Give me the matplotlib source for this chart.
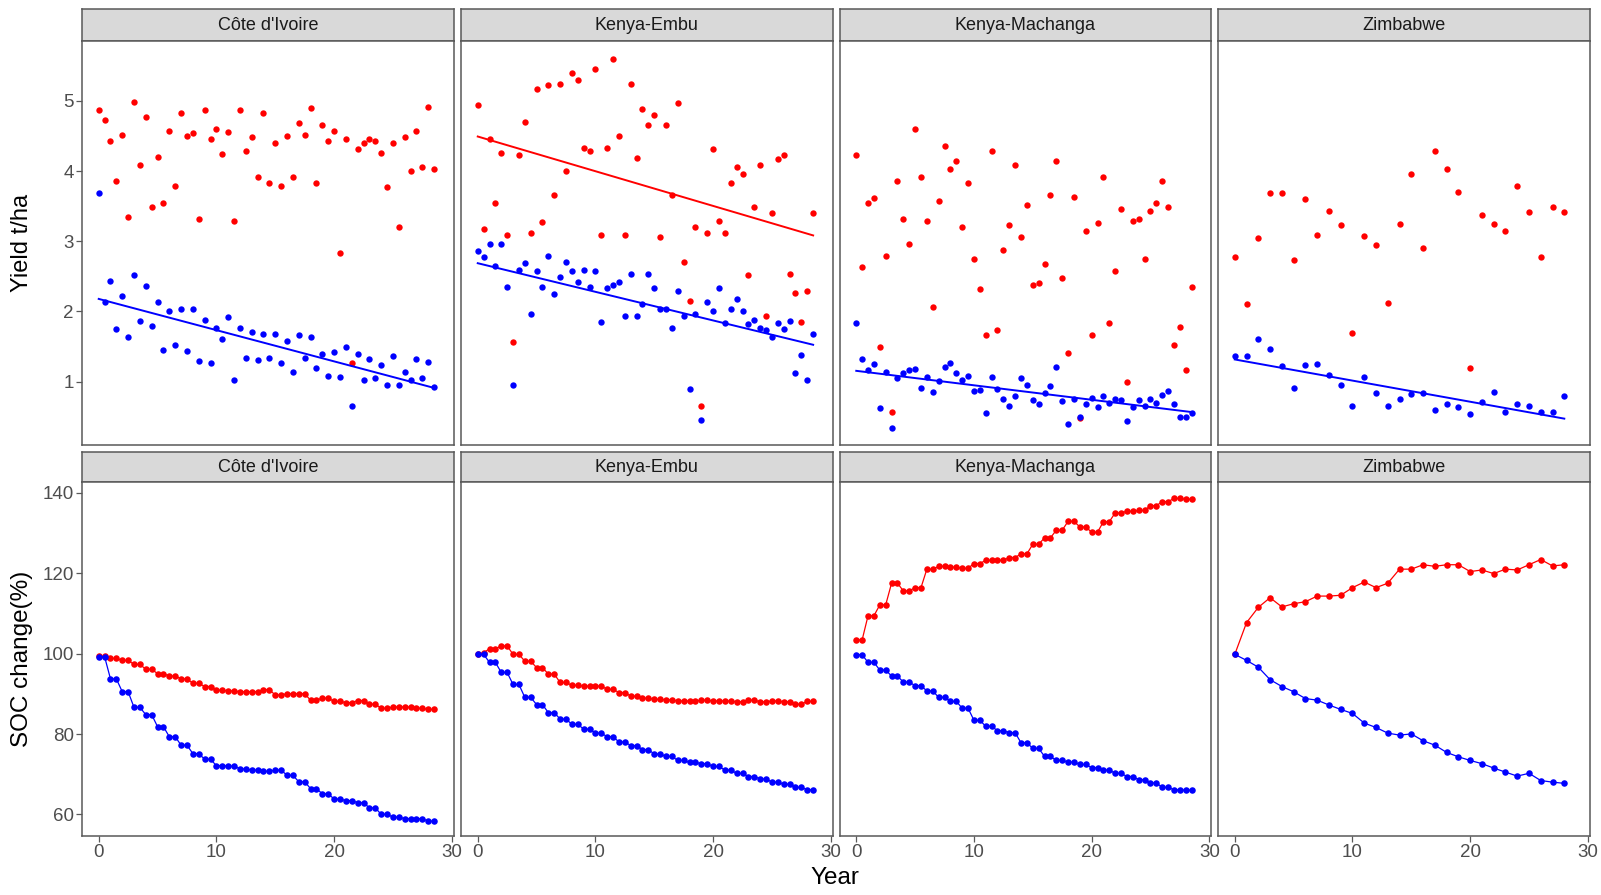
import numpy as np
from matplotlib import pyplot as plt

plt.rcParams['font.family'] = ['Liberation Sans', 'DejaVu Sans']

sites = ["Côte d'Ivoire", "Kenya-Embu", "Kenya-Machanga", "Zimbabwe"]

# two seasons per year for the first three sites, one for Zimbabwe
year_half = np.arange(0, 29, 0.5)
year_full = np.arange(0, 29, 1.0)

# ---- grain yield (t/ha), red and blue treatments ----
civ_yield_red = [4.87, 4.72, 4.43, 3.85, 4.51, 3.35, 4.98, 4.08, 4.76, 3.48,
                 4.20, 3.54, 4.57, 3.78, 4.83, 4.49, 4.54, 3.32, 4.87, 4.45,
                 4.59, 4.24, 4.56, 3.28, 4.87, 4.29, 4.48, 3.91, 4.83, 3.83,
                 4.39, 3.78, 4.49, 3.91, 4.68, 4.51, 4.89, 3.83, 4.65, 4.43,
                 4.57, 2.83, 4.45, 1.27, 4.31, 4.40, 4.45, 4.43, 4.26, 3.77,
                 4.39, 3.20, 4.48, 4.00, 4.57, 4.05, 4.91, 4.02]
civ_yield_blue = [3.68, 2.13, 2.44, 1.75, 2.22, 1.64, 2.52, 1.87, 2.36, 1.79,
                  2.13, 1.45, 2.01, 1.52, 2.03, 1.44, 2.04, 1.30, 1.88, 1.27,
                  1.77, 1.61, 1.92, 1.02, 1.77, 1.34, 1.71, 1.31, 1.68, 1.34,
                  1.68, 1.27, 1.58, 1.14, 1.66, 1.34, 1.64, 1.19, 1.39, 1.08,
                  1.42, 1.07, 1.49, 0.65, 1.39, 1.03, 1.33, 1.05, 1.24, 0.96,
                  1.36, 0.96, 1.14, 1.02, 1.33, 1.05, 1.28, 0.93]
embu_yield_red = [4.94, 3.17, 4.46, 3.54, 4.26, 3.09, 1.56, 4.22, 4.70, 3.11,
                  5.17, 3.27, 5.22, 3.65, 5.24, 4.00, 5.40, 5.29, 4.33, 4.29,
                  5.45, 3.09, 4.33, 5.59, 4.49, 3.09, 5.24, 4.18, 4.88, 4.66,
                  4.80, 3.06, 4.65, 3.66, 4.96, 2.70, 2.15, 3.20, 0.65, 3.12,
                  4.31, 3.28, 3.12, 3.83, 4.06, 3.95, 2.52, 3.49, 4.09, 1.93,
                  3.40, 4.17, 4.23, 2.53, 2.26, 1.85, 2.29, 3.40]
embu_yield_blue = [2.86, 2.78, 2.96, 2.65, 2.96, 2.35, 0.96, 2.59, 2.69, 1.96,
                   2.58, 2.35, 2.79, 2.25, 2.49, 2.70, 2.57, 2.42, 2.59, 2.35,
                   2.57, 1.85, 2.33, 2.38, 2.42, 1.94, 2.53, 1.93, 2.10, 2.53,
                   2.33, 2.03, 2.03, 1.76, 2.29, 1.93, 0.90, 1.96, 0.45, 2.13,
                   2.01, 2.33, 1.84, 2.03, 2.18, 2.01, 1.82, 1.88, 1.77, 1.73,
                   1.64, 1.84, 1.75, 1.87, 1.12, 1.38, 1.03, 1.68]
mach_yield_red = [4.23, 2.63, 3.54, 3.61, 1.50, 2.79, 0.57, 3.86, 3.31, 2.96,
                  4.60, 3.91, 3.28, 2.07, 3.57, 4.35, 4.03, 4.14, 3.20, 3.83,
                  2.75, 2.32, 1.67, 4.28, 1.73, 2.87, 3.23, 4.09, 3.06, 3.51,
                  2.38, 2.41, 2.67, 3.65, 4.14, 2.47, 1.41, 3.63, 0.48, 3.14,
                  1.67, 3.26, 3.91, 1.83, 2.58, 3.46, 0.99, 3.29, 3.31, 2.74,
                  3.43, 3.55, 3.86, 3.48, 1.52, 1.78, 1.16, 2.35]
mach_yield_blue = [1.84, 1.33, 1.16, 1.25, 0.62, 1.14, 0.34, 1.05, 1.12, 1.16,
                   1.18, 0.91, 1.07, 0.85, 1.01, 1.21, 1.27, 1.12, 1.02, 1.08,
                   0.87, 0.88, 0.56, 1.07, 0.90, 0.76, 0.66, 0.79, 1.05, 0.96,
                   0.74, 0.68, 0.84, 0.94, 1.21, 0.73, 0.40, 0.76, 0.50, 0.68,
                   0.77, 0.64, 0.79, 0.70, 0.76, 0.74, 0.44, 0.64, 0.74, 0.65,
                   0.76, 0.70, 0.81, 0.87, 0.68, 0.50, 0.50, 0.56]
zim_yield_red = [2.78, 2.10, 3.04, 3.68, 3.68, 2.73, 3.60, 3.09, 3.43, 3.23,
                 1.70, 3.07, 2.94, 2.12, 3.24, 3.95, 2.90, 4.29, 4.03, 3.70,
                 1.19, 3.37, 3.24, 3.15, 3.78, 3.41, 2.78, 3.49, 3.41]
zim_yield_blue = [1.36, 1.36, 1.61, 1.47, 1.22, 0.91, 1.24, 1.25, 1.10, 0.96,
                  0.65, 1.07, 0.84, 0.66, 0.75, 0.82, 0.84, 0.60, 0.68, 0.64,
                  0.54, 0.71, 0.85, 0.57, 0.68, 0.65, 0.57, 0.57, 0.80]

# ---- SOC change (% of initial) ----
civ_soc_red = [99.3, 99.3, 98.8, 98.8, 98.3, 98.3, 97.3, 97.3, 96.1, 96.1,
               95.0, 95.0, 94.4, 94.4, 93.7, 93.7, 92.6, 92.6, 91.8, 91.8,
               90.9, 90.9, 90.7, 90.7, 90.5, 90.5, 90.5, 90.5, 91.0, 91.0,
               89.7, 89.7, 90.0, 90.0, 90.0, 90.0, 88.4, 88.4, 88.9, 88.9,
               88.1, 88.1, 87.8, 87.8, 88.3, 88.3, 87.4, 87.4, 86.4, 86.4,
               86.7, 86.7, 86.7, 86.7, 86.4, 86.4, 86.1, 86.1]
civ_soc_blue = [99.2, 99.2, 93.7, 93.7, 90.5, 90.5, 86.6, 86.6, 84.8, 84.8,
                81.8, 81.8, 79.3, 79.3, 77.2, 77.2, 75.1, 75.1, 73.7, 73.7,
                72.1, 72.1, 72.0, 72.0, 71.3, 71.3, 71.0, 71.0, 70.7, 70.7,
                71.0, 71.0, 69.7, 69.7, 68.1, 68.1, 66.4, 66.4, 65.1, 65.1,
                63.8, 63.8, 63.4, 63.4, 62.9, 62.9, 61.6, 61.6, 60.0, 60.0,
                59.3, 59.3, 58.9, 58.9, 58.9, 58.9, 58.3, 58.3]
embu_soc_red = [99.9, 100.2, 101.2, 101.2, 101.9, 101.9, 99.8, 99.8, 98.1, 98.1,
                96.5, 96.5, 94.9, 94.9, 92.8, 92.8, 92.1, 92.1, 91.9, 91.9,
                91.9, 91.9, 91.1, 91.1, 90.3, 90.3, 89.4, 89.4, 88.9, 88.9,
                88.6, 88.6, 88.5, 88.5, 88.2, 88.2, 88.2, 88.2, 88.4, 88.4,
                88.2, 88.2, 88.2, 88.2, 88.0, 88.0, 88.4, 88.4, 88.0, 88.0,
                88.2, 88.2, 88.0, 88.0, 87.4, 87.4, 88.1, 88.1]
embu_soc_blue = [99.8, 99.8, 97.8, 97.8, 95.3, 95.3, 92.3, 92.3, 89.1, 89.1,
                 87.3, 87.3, 85.3, 85.3, 83.7, 83.7, 82.4, 82.4, 81.2, 81.2,
                 80.2, 80.2, 79.3, 79.3, 78.0, 78.0, 77.1, 77.1, 76.1, 76.1,
                 75.0, 75.0, 74.4, 74.4, 73.4, 73.4, 72.9, 72.9, 72.6, 72.6,
                 71.9, 71.9, 71.0, 71.0, 70.2, 70.2, 69.4, 69.4, 68.8, 68.8,
                 68.0, 68.0, 67.5, 67.5, 66.7, 66.7, 66.1, 66.1]
mach_soc_red = [103.4, 103.4, 109.4, 109.4, 112.1, 112.1, 117.5, 117.5, 115.6, 115.6,
                116.4, 116.4, 121.0, 121.0, 121.7, 121.7, 121.5, 121.5, 121.2, 121.2,
                122.4, 122.4, 123.2, 123.2, 123.2, 123.2, 123.9, 123.9, 124.8, 124.8,
                127.2, 127.2, 128.8, 128.8, 130.7, 130.7, 132.9, 132.9, 131.5, 131.5,
                130.2, 130.2, 132.8, 132.8, 135.0, 135.0, 135.4, 135.4, 135.6, 135.6,
                136.8, 136.8, 137.8, 137.8, 138.6, 138.6, 138.4, 138.4]
mach_soc_blue = [99.7, 99.7, 97.8, 97.8, 95.9, 95.9, 94.4, 94.4, 92.9, 92.9,
                 92.0, 92.0, 90.7, 90.7, 89.1, 89.1, 88.1, 88.1, 86.4, 86.4,
                 83.4, 83.4, 81.9, 81.9, 80.8, 80.8, 80.3, 80.3, 77.8, 77.8,
                 76.4, 76.4, 74.4, 74.4, 73.4, 73.4, 73.0, 73.0, 72.4, 72.4,
                 71.6, 71.6, 71.0, 71.0, 70.2, 70.2, 69.4, 69.4, 68.6, 68.6,
                 67.8, 67.8, 66.7, 66.7, 66.1, 66.1, 66.0, 66.0]
zim_soc_red = [99.8, 107.7, 111.5, 113.9, 111.6, 112.4, 112.9, 114.3, 114.3, 114.5,
               116.4, 117.8, 116.4, 117.5, 121.0, 121.0, 122.1, 121.7, 122.1, 122.1,
               120.4, 120.8, 119.9, 121.0, 120.8, 122.1, 123.4, 121.8, 122.1]
zim_soc_blue = [99.8, 98.3, 96.6, 93.5, 91.8, 90.5, 88.8, 88.4, 87.2, 86.1,
                85.1, 82.7, 81.6, 80.2, 79.7, 80.0, 78.3, 77.2, 75.4, 74.3,
                73.4, 72.6, 71.5, 70.5, 69.5, 70.2, 68.4, 68.0, 67.7]

# which trend lines are shown (red, blue)
trend_shown = [(False, True), (True, True), (False, True), (False, True)]

years = [year_half, year_half, year_half, year_full]
yield_red = [civ_yield_red, embu_yield_red, mach_yield_red, zim_yield_red]
yield_blue = [civ_yield_blue, embu_yield_blue, mach_yield_blue, zim_yield_blue]
soc_red = [civ_soc_red, embu_soc_red, mach_soc_red, zim_soc_red]
soc_blue = [civ_soc_blue, embu_soc_blue, mach_soc_blue, zim_soc_blue]

RED = '#FF0000'
BLUE = '#0000FF'
EDGE = '#595959'
TICK_COL = '#4D4D4D'

W, H = 1601, 895
fig = plt.figure(figsize=(W / 100 + 0.001, H / 100 + 0.001), dpi=100)


def px_axes(x0, y0, x1, y1):
    return fig.add_axes([x0 / W, 1 - y1 / H, (x1 - x0) / W, (y1 - y0) / H])


col_x = [(82, 453.5), (461, 832.5), (839.5, 1211), (1218, 1589.5)]
rows = {'yield': (9, 41, 445), 'soc': (452, 482, 836)}


def style(ax, show_y, show_x):
    for sp in ax.spines.values():
        sp.set_color(EDGE)
        sp.set_linewidth(1.1)
    ax.tick_params(colors=EDGE, labelcolor=TICK_COL, labelsize=13.5,
                   length=4, width=0.9, pad=2)
    if not show_y:
        ax.tick_params(axis='y', left=False, labelleft=False)
    if not show_x:
        ax.tick_params(axis='x', bottom=False, labelbottom=False)


def strip(x0, x1, top, bottom, label):
    s = px_axes(x0, top, x1, bottom)
    s.set_facecolor('#D9D9D9')
    s.set_xticks([])
    s.set_yticks([])
    for sp in s.spines.values():
        sp.set_color(EDGE)
        sp.set_linewidth(1.1)
    s.text(0.5, 0.47, label, ha='center', va='center', fontsize=13,
           color='#1A1A1A', transform=s.transAxes)


for i, site in enumerate(sites):
    x0, x1 = col_x[i]
    yr = years[i]

    # top row: yield scatter + linear trends
    st, pt, pb = rows['yield']
    strip(x0, x1, st, pt, site)
    ax = px_axes(x0, pt, x1, pb)
    ax.scatter(yr, yield_red[i], s=21, color=RED, linewidths=0, zorder=2)
    ax.scatter(yr, yield_blue[i], s=21, color=BLUE, linewidths=0, zorder=3)
    for vals, col, show in zip((yield_red[i], yield_blue[i]), (RED, BLUE), trend_shown[i]):
        if show:
            k, b = np.polyfit(yr, vals, 1)
            xs = np.array([yr[0], yr[-1]])
            ax.plot(xs, k * xs + b, color=col, linewidth=1.4, zorder=4)
    ax.set_xlim(-1.42, 30.15)
    ax.set_ylim(0.1, 5.85)
    ax.set_yticks([1, 2, 3, 4, 5])
    style(ax, i == 0, False)

    # bottom row: SOC change
    st, pt, pb = rows['soc']
    strip(x0, x1, st, pt, site)
    ax = px_axes(x0, pt, x1, pb)
    ax.plot(yr, soc_red[i], color=RED, linewidth=0.9, marker='o',
            markersize=4.7, markeredgewidth=0, zorder=2)
    ax.plot(yr, soc_blue[i], color=BLUE, linewidth=0.9, marker='o',
            markersize=4.7, markeredgewidth=0, zorder=3)
    ax.set_xlim(-1.42, 30.15)
    ax.set_ylim(54.6, 142.7)
    ax.set_yticks([60, 80, 100, 120, 140])
    ax.set_xticks([0, 10, 20, 30])
    style(ax, i == 0, True)

fig.text(22 / W, 1 - 243 / H, 'Yield t/ha', rotation=90, ha='center',
         va='center', fontsize=17)
fig.text(22 / W, 1 - 659 / H, 'SOC change(%)', rotation=90, ha='center',
         va='center', fontsize=17.5)
fig.text(835 / W, 1 - 878 / H, 'Year', ha='center', va='center', fontsize=17.5)

fig.savefig('out.png', dpi=100)
